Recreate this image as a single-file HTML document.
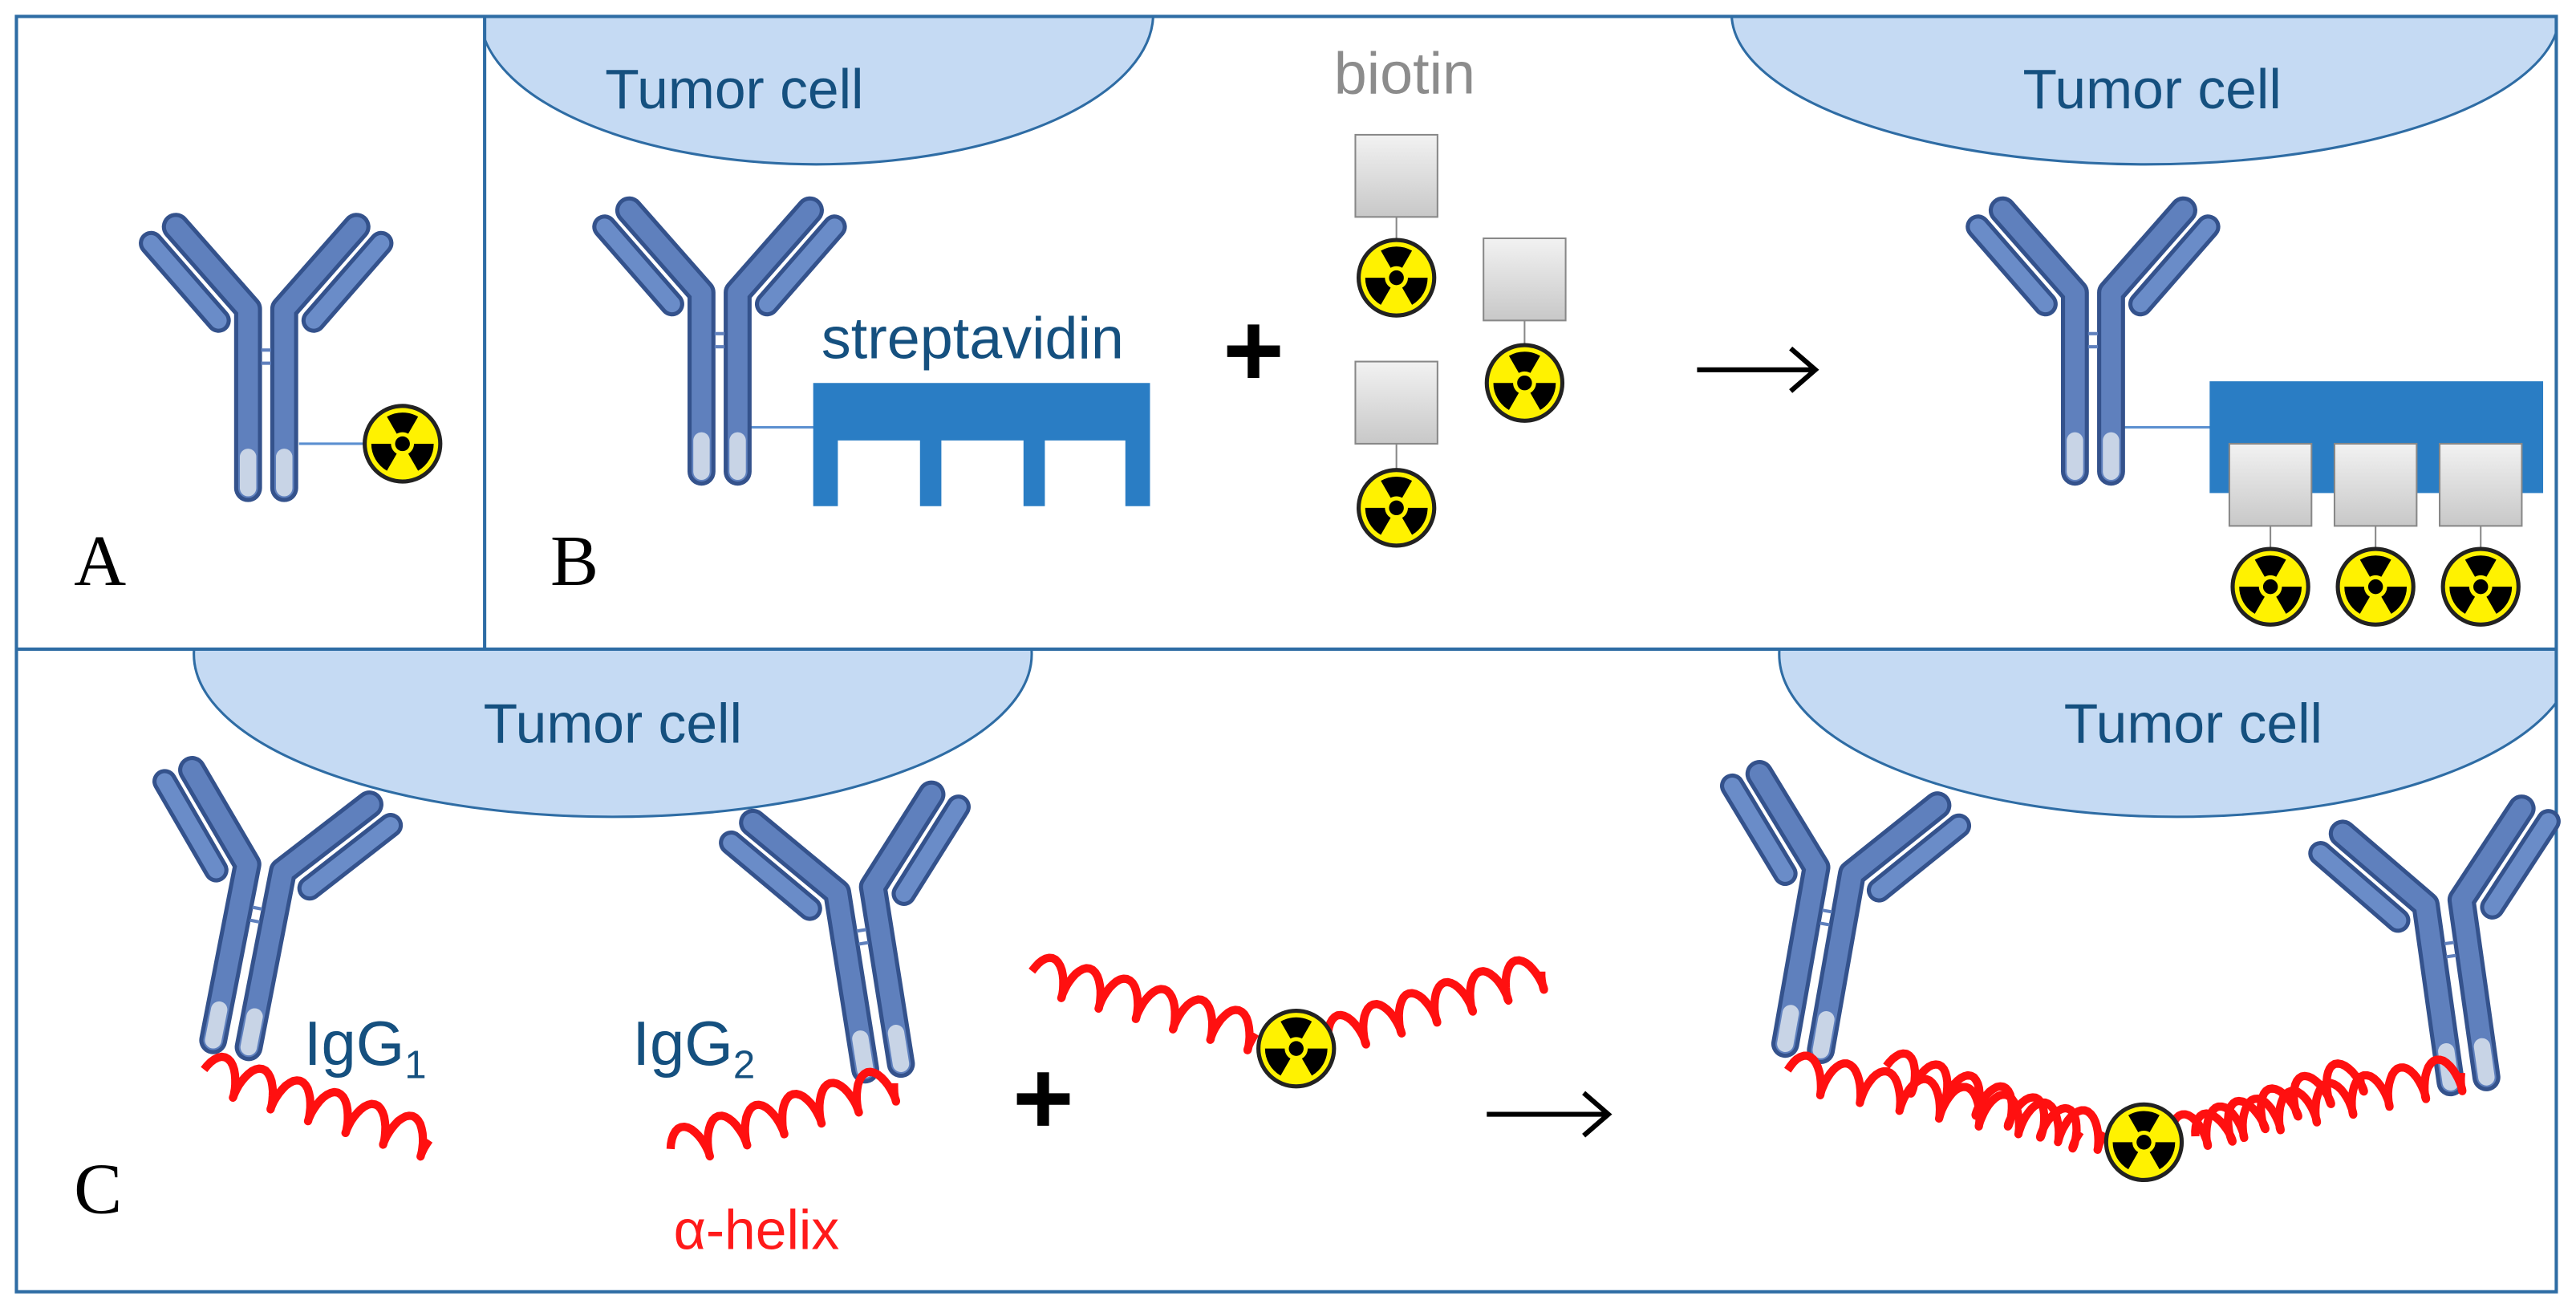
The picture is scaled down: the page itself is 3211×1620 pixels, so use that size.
<!DOCTYPE html>
<html><head><meta charset="utf-8"><style>
html,body{margin:0;padding:0;background:#fff;}
svg{display:block;}
</style></head><body>
<svg id="s" width="3211" height="1620" viewBox="0 0 1568 791" preserveAspectRatio="none" xmlns="http://www.w3.org/2000/svg" xmlns:xlink="http://www.w3.org/1999/xlink">
<defs>
<clipPath id="cB"><rect x="295" y="10" width="1261" height="385"/></clipPath>
<clipPath id="cC"><rect x="10" y="395" width="1546" height="391"/></clipPath>
<g id="ab">
  <g fill="none" stroke-linecap="round" stroke-linejoin="round">
    <path d="M-11 -3 L-11 -112 L-55 -162" stroke="#34528c" stroke-width="17"/>
    <path d="M11 -3 L11 -112 L55 -162" stroke="#34528c" stroke-width="17"/>
    <path d="M-11 -3 L-11 -112 L-55 -162" stroke="#5f80bd" stroke-width="12"/>
    <path d="M11 -3 L11 -112 L55 -162" stroke="#5f80bd" stroke-width="12"/>
    <path d="M-29 -105 L-70 -152" stroke="#34528c" stroke-width="15"/>
    <path d="M29 -105 L70 -152" stroke="#34528c" stroke-width="15"/>
    <path d="M-29 -105 L-70 -152" stroke="#6a8cc8" stroke-width="10"/>
    <path d="M29 -105 L70 -152" stroke="#6a8cc8" stroke-width="10"/>
    <path d="M-11 -3 L-11 -22" stroke="#c8d4e6" stroke-width="10"/>
    <path d="M11 -3 L11 -22" stroke="#c8d4e6" stroke-width="10"/>
  </g>
  <rect x="-3" y="-88" width="6" height="2" fill="#5f80bd"/>
  <rect x="-3" y="-80" width="6" height="2" fill="#5f80bd"/>
</g>
<g id="rad">
  <circle r="23" fill="#fff200" stroke="#222" stroke-width="2.5"/>
  <g id="blade"><path d="M-3.5 -6.06 L-9.5 -16.45 A19 19 0 0 1 9.5 -16.45 L3.5 -6.06 A7 7 0 0 0 -3.5 -6.06Z" fill="#000"/></g>
  <use xlink:href="#blade" transform="rotate(120)"/>
  <use xlink:href="#blade" transform="rotate(240)"/>
  <circle r="4.5" fill="#000"/>
</g>
<linearGradient id="sq" x1="0" y1="0" x2="0" y2="1"><stop offset="0" stop-color="#f2f2f2"/><stop offset="1" stop-color="#c8c8c8"/></linearGradient>
</defs>

<!-- tumor cells -->
<g fill="#c5daf3" stroke="#2e6ca4" stroke-width="1.5">
  <g clip-path="url(#cB)">
    <ellipse cx="497" cy="8" rx="205" ry="92"/>
    <ellipse cx="1306" cy="8" rx="252" ry="92"/>
  </g>
  <g clip-path="url(#cC)">
    <ellipse cx="373" cy="398" rx="255" ry="99"/>
    <ellipse cx="1325" cy="398" rx="242" ry="99"/>
  </g>
</g>
<g fill="none" stroke="#2e6ca4" stroke-width="2">
  <rect x="10" y="10" width="1546" height="776"/>
  <line x1="295" y1="10" x2="295" y2="395"/>
  <line x1="10" y1="395" x2="1556" y2="395"/>
</g>

<g font-family="Liberation Sans, sans-serif" fill="#15507f" font-size="34">
  <text x="447" y="66" text-anchor="middle">Tumor cell</text>
  <text x="1310" y="66" text-anchor="middle">Tumor cell</text>
  <text x="373" y="452" text-anchor="middle">Tumor cell</text>
  <text x="1335" y="452" text-anchor="middle">Tumor cell</text>
  <text x="500" y="218" font-size="36">streptavidin</text>
  <text x="185" y="648" font-size="38">IgG<tspan font-size="24" dy="8">1</tspan></text>
  <text x="385" y="648" font-size="38">IgG<tspan font-size="24" dy="8">2</tspan></text>
  <text x="855" y="57" text-anchor="middle" fill="#8c8c8c" font-size="36">biotin</text>
  <text x="410" y="760" fill="#ff1a1a" font-size="34">α-helix</text>
  <text x="763" y="235" text-anchor="middle" fill="#000" font-size="64" font-weight="bold">+</text>
  <text x="635" y="690" text-anchor="middle" fill="#000" font-size="64" font-weight="bold">+</text>
</g>
<g font-family="Liberation Serif, serif" font-size="44" fill="#000">
  <text x="45" y="356">A</text>
  <text x="335" y="356">B</text>
  <text x="45" y="738">C</text>
</g>

<!-- A -->
<line x1="182" y1="270" x2="222" y2="270" stroke="#5b8fd0" stroke-width="1.5"/>
<use xlink:href="#ab" transform="translate(162,300)"/>
<use xlink:href="#rad" transform="translate(245,270)"/>

<!-- B left -->
<line x1="455" y1="260" x2="497" y2="260" stroke="#5b8fd0" stroke-width="1.5"/>
<use xlink:href="#ab" transform="translate(438,290)"/>
<path d="M495 233 H700 V308 H685 V268 H636 V308 H623 V268 H573 V308 H560 V268 H510 V308 H495Z" fill="#2a7dc4"/>

<!-- biotins -->
<g stroke="#888" stroke-width="1">
  <line x1="850" y1="132" x2="850" y2="146"/>
  <line x1="928" y1="195" x2="928" y2="210"/>
  <line x1="850" y1="270" x2="850" y2="286"/>
  <rect x="825" y="82" width="50" height="50" fill="url(#sq)"/>
  <rect x="903" y="145" width="50" height="50" fill="url(#sq)"/>
  <rect x="825" y="220" width="50" height="50" fill="url(#sq)"/>
</g>
<use xlink:href="#rad" transform="translate(850,169)"/>
<use xlink:href="#rad" transform="translate(928,233)"/>
<use xlink:href="#rad" transform="translate(850,309)"/>

<!-- arrows -->
<g stroke="#000" stroke-width="3" fill="none">
  <path d="M1033 225 H1103 M1090 212 L1105 225 L1090 238"/>
  <path d="M905 678 H977 M964 665 L979 678 L964 691"/>
</g>

<!-- B right -->
<line x1="1292" y1="260" x2="1347" y2="260" stroke="#5b8fd0" stroke-width="1.5"/>
<use xlink:href="#ab" transform="translate(1274,290)"/>
<rect x="1345" y="232" width="203" height="68" fill="#2a7dc4"/>
<g stroke="#888" stroke-width="1">
  <line x1="1382" y1="320" x2="1382" y2="334"/>
  <line x1="1446" y1="320" x2="1446" y2="334"/>
  <line x1="1510" y1="320" x2="1510" y2="334"/>
  <rect x="1357" y="270" width="50" height="50" fill="url(#sq)"/>
  <rect x="1421" y="270" width="50" height="50" fill="url(#sq)"/>
  <rect x="1485" y="270" width="50" height="50" fill="url(#sq)"/>
</g>
<use xlink:href="#rad" transform="translate(1382,357)"/>
<use xlink:href="#rad" transform="translate(1446,357)"/>
<use xlink:href="#rad" transform="translate(1510,357)"/>

<!-- C antibodies -->
<use xlink:href="#ab" transform="translate(140,638) rotate(11)"/>
<use xlink:href="#ab" transform="translate(538,652) rotate(-9)"/>
<use xlink:href="#ab" transform="translate(1097,640) rotate(10)"/>
<use xlink:href="#ab" transform="translate(1503,660) rotate(-8)"/>

<g id="helices" fill="none" stroke="#ff1010" stroke-width="5" stroke-linejoin="round"></g>
<use xlink:href="#rad" transform="translate(789,638)"/>
<use xlink:href="#rad" transform="translate(1305,695)"/>
</svg>
<script>
(function(){
var g=document.getElementById('helices');
function helix(x0,y0,x1,y1,n,a){
  var dx=x1-x0,dy=y1-y0,L=Math.sqrt(dx*dx+dy*dy),ux=dx/L,uy=dy/L,px=-uy,py=ux;
  if(py>0){px=-px;py=-py;}
  var d='',N=n*24;
  for(var i=0;i<=N;i++){var t=i/N;var ph=2*Math.PI*n*t;
    var off=a*Math.sin(ph);var back=-4*Math.cos(ph);
    var x=x0+dx*t+ux*back+px*off,y=y0+dy*t+uy*back+py*off;
    d+=(i?'L':'M')+x.toFixed(1)+' '+y.toFixed(1)+' ';}
  var p=document.createElementNS('http://www.w3.org/2000/svg','path');
  p.setAttribute('d',d);g.appendChild(p);
}
helix(128,652,265,695,6,11);
helix(412,698,548,658,6,11);
helix(632,592,768,630,6,11);
helix(812,630,942,590,6,11);
helix(1092,652,1285,690,8,11);
helix(1152,650,1270,690,6,11);
helix(1325,690,1502,652,8,11);
helix(1340,690,1440,652,5,11);
})();
</script>
</body></html>
